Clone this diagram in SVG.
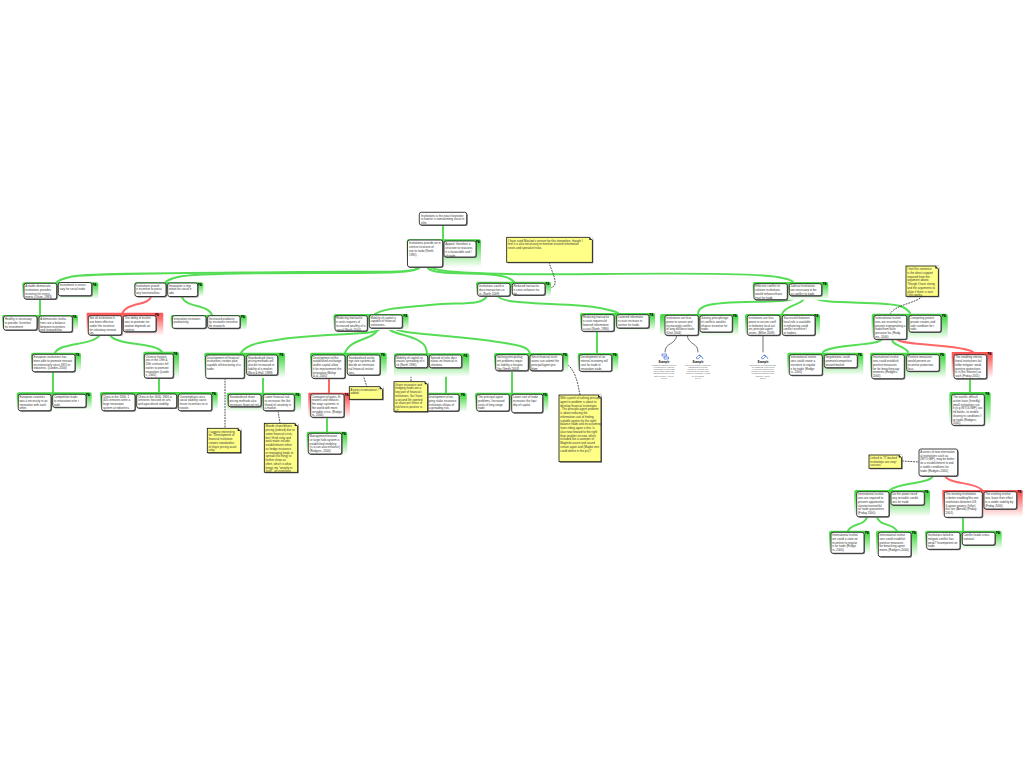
<svg xmlns="http://www.w3.org/2000/svg" width="1024" height="768" viewBox="0 0 1024 768">
<style>
.t{font-family:"Liberation Sans",Arial,sans-serif;font-size:2.95px;fill:#333}
.y{fill:#ffff88;stroke:#111;stroke-width:.8}
.b{fill:#fff;stroke:#111;stroke-width:.8;rx:2px}
.s{fill:#777;rx:2px}
.g{fill:url(#gG)}
.r{fill:url(#gR)}
.tag{font-family:"Liberation Sans",Arial,sans-serif;font-size:3px;font-weight:bold;fill:#000}
.cg,.cr,.ck,.cd{fill:none;stroke-linecap:round}
.cg{stroke:#55dd55;stroke-width:2}
.cr{stroke:#ff6666;stroke-width:2}
.ck{stroke:#333;stroke-width:.7}
.cd{stroke:#222;stroke-width:.8;stroke-dasharray:1.8 1;stroke-linecap:butt}
.ic{fill:none;stroke:#2255cc;stroke-width:.6}
.ex{font-family:"Liberation Sans",Arial,sans-serif;font-size:2.6px;font-weight:bold;fill:#000;text-anchor:middle}
.et{font-family:"Liberation Sans",Arial,sans-serif;font-size:2.3px;fill:#666;text-anchor:middle}
</style>
<defs>
<linearGradient id="gG" x1="0" y1="0" x2="0" y2="1"><stop offset="0" stop-color="#44d844"/><stop offset=".2" stop-color="#55dd55"/><stop offset="1" stop-color="#fff"/></linearGradient>
<linearGradient id="gR" x1="0" y1="0" x2="0" y2="1"><stop offset="0" stop-color="#ff5555"/><stop offset=".2" stop-color="#ff6666"/><stop offset="1" stop-color="#fff"/></linearGradient>
<g id="fold"><path fill="#fff" d="M-3-.6H.6V3z"/><path fill="#222" d="M-3-.4L0 2.6H-3z"/></g>
</defs>
<g id="connectors">
<path class="cg" d="M443 225V240"/>
<path class="cg" d="M418 267C416 274 380 271 300 272C200 273 80 273 70 277C62 279 58 280 56 283"/>
<path class="cg" d="M420 267C418 273 390 273 320 273C260 273 190 274 178 277C170 279 167 280 165 283"/>
<path class="cg" d="M427 267C432 276 470 272 495 275C505 276 511 278 514 282"/>
<path class="cg" d="M430 267C436 272 470 275 600 274C700 273 770 274 782 278C788 279 791 280 793 282"/>
<path class="cg" d="M40 299V316"/>
<path class="cr" d="M151 297C148 306 126 302 122 314"/>
<path class="cg" d="M182 297C186 308 208 304 212 315"/>
<path class="cg" d="M100 335C92 346 60 342 55 353"/>
<path class="cg" d="M110 335C116 346 156 342 162 352"/>
<path class="cg" d="M53 372V393"/>
<path class="cg" d="M159 378V393"/>
<path class="cg" d="M487 296C482 306 460 302 430 305C400 308 385 308 375 314"/>
<path class="cg" d="M498 296C502 306 570 302 600 308C610 310 615 311 618 313"/>
<path class="cg" d="M381 328C376 336 340 332 290 338C260 342 246 344 241 353"/>
<path class="cg" d="M378 328C376 340 350 338 345 353"/>
<path class="cg" d="M389 328C390 335 416 334 425 346C426 349 427 350 427 354"/>
<path class="cg" d="M394 328C402 336 470 334 520 346C527 348 529 350 530 354"/>
<path class="cg" d="M597 331V354"/>
<path class="cg" d="M263 375V393"/>
<path class="cr" d="M329 378V393"/>
<path class="cg" d="M327 418V432"/>
<path class="cg" d="M446 368V393"/>
<path class="cg" d="M512 371V393"/>
<path class="cg" d="M797 296C794 306 730 298 705 306C700 308 698 310 698 314"/>
<path class="cg" d="M805 296C803 306 786 304 782 314"/>
<path class="cg" d="M812 296C816 306 880 300 900 306C906 308 908 310 910 313"/>
<path class="cg" d="M882 339C880 346 832 344 823 352"/>
<path class="cg" d="M892 339C892 346 904 345 908 352"/>
<path class="cr" d="M897 339C900 346 960 344 973 352"/>
<path class="cg" d="M970 379V392"/>
<path class="cg" d="M933 476C930 484 900 482 890 490"/>
<path class="cr" d="M945 476C948 484 975 482 982 490"/>
<path class="cg" d="M867 517C865 526 851 523 848 531"/>
<path class="cg" d="M877 517C879 526 893 523 897 531"/>
<path class="cg" d="M963 517V531"/>
<path class="ck" d="M677 335C675 346 665 342 665 352"/>
<path class="ck" d="M687 335C689 346 698 342 698 352"/>
<path class="ck" d="M763 335V352"/>
<path class="cd" d="M225 378V428"/>
<path class="cd" d="M278 411L280 423"/>
<path class="cd" d="M363 375L367 387"/>
<path class="cd" d="M411 368V382"/>
<path class="cd" d="M563 363C570 364 575 372 578 385L580 395"/>
<path class="cd" d="M549 262C551 270 556 278 555 284C554 287 552 288 546 288"/>
<path class="cd" d="M922 296C918 303 896 304 890 314"/>
<path class="cd" d="M902 461L919 462"/>
</g>

<g id="n-root"><rect class="s" x="420.3" y="213.3" width="47.4" height="12.7" rx="1.5"/><rect class="b" x="419.3" y="212.3" width="47.4" height="12.7" rx="1.5"/><text class="t" y="216.5"><tspan x="421">Institutions is the exact keystone</tspan><tspan x="421" dy="3.75">in how/or is transforming social in</tspan><tspan x="421" dy="3.75">elite.</tspan></text></g>

<g id="g1"><rect class="g" x="406.7" y="239.3" width="74.3" height="28" rx="2"/><text class="tag" x="476" y="242.5">PA</text>
<g id="n1a"><rect class="s" x="408.5" y="241" width="35.2" height="27" rx="1.5"/><rect class="b" x="407.5" y="240" width="35.2" height="27" rx="1.5"/><text class="t" y="244.3"><tspan x="409">Institutions provide an in</tspan><tspan x="409" dy="3.75">centive structure of</tspan><tspan x="409" dy="3.75">use to trade (North,</tspan><tspan x="409" dy="3.75">1991).</tspan></text></g>
<g id="n1b"><rect class="s" x="445" y="242" width="32" height="16" rx="1.5"/><rect class="b" x="444" y="241" width="32" height="16" rx="1.5"/><text class="t" y="245.3"><tspan x="445.3">Appeal: therefore a</tspan><tspan x="445.3" dy="3.75">structure to reassess</tspan><tspan x="445.3" dy="3.75">it is favourable and /</tspan><tspan x="445.3" dy="3.75">of trade.</tspan></text></g></g>

<g id="note-top"><rect class="s" x="507.7" y="238.3" width="85.6" height="25" style="rx:0"/><rect class="y" x="506.7" y="237.3" width="85.6" height="25"/><use href="#fold" x="592.3" y="237.3"/><text class="t" y="241.7"><tspan x="508">I have used Maslow's version for this streamline, though I</tspan><tspan x="508" dy="3.75">feel it is also necessary to mention insured information</tspan><tspan x="508" dy="3.75">exists and spread of risks.</tspan></text></g>

<g id="g2"><rect class="g" x="22.3" y="282.3" width="76" height="17" rx="2"/><text class="tag" x="92.5" y="285.5">PA</text>
<g id="n2a"><rect class="s" x="25" y="284.3" width="32.7" height="15.7" rx="1.5"/><rect class="b" x="24" y="283.3" width="32.7" height="15.7" rx="1.5"/><text class="t" y="287"><tspan x="25.2">A stable democratic</tspan><tspan x="25.2" dy="3.75">institutions provides</tspan><tspan x="25.2" dy="3.75">incentive for invest-</tspan><tspan x="25.2" dy="3.75">ments (Olson, 1993).</tspan></text></g>
<g id="n2b"><rect class="s" x="59.3" y="283.5" width="33.4" height="13.2" rx="1.5"/><rect class="b" x="58.3" y="282.5" width="33.4" height="13.2" rx="1.5"/><text class="t" y="286.3"><tspan x="59.5">Investment is neces-</tspan><tspan x="59.5" dy="3.75">sary for social trade</tspan></text></g></g>

<g id="g3"><rect class="g" x="2" y="315" width="76" height="15" rx="2"/><text class="tag" x="72.5" y="318.2">PA</text>
<g id="n3a"><rect class="s" x="4.5" y="317" width="33.5" height="14" rx="1.5"/><rect class="b" x="3.5" y="316" width="33.5" height="14" rx="1.5"/><text class="t" y="320"><tspan x="4.7">Healthy is necessary</tspan><tspan x="4.7" dy="3.75">to provide. Incentive</tspan><tspan x="4.7" dy="3.75">for investment</tspan></text></g>
<g id="n3b"><rect class="s" x="40" y="317" width="33.3" height="16" rx="1.5"/><rect class="b" x="39" y="316" width="33.3" height="16" rx="1.5"/><text class="t" y="320"><tspan x="40.2">A democratic institu-</tspan><tspan x="40.2" dy="3.75">tions are a balance</tspan><tspan x="40.2" dy="3.75">between incentives</tspan><tspan x="40.2" dy="3.75">and stewardship.</tspan></text></g></g>

<g id="g4"><rect class="g" x="134.3" y="282.3" width="69" height="14.4" rx="2"/><text class="tag" x="198" y="285.5">PA</text>
<g id="n4a"><rect class="s" x="136" y="284" width="31" height="13.5" rx="1.5"/><rect class="b" x="135" y="283" width="31" height="13.5" rx="1.5"/><text class="t" y="286.7"><tspan x="136.2">Institutions provid</tspan><tspan x="136.2" dy="3.75">e incentive to pursu</tspan><tspan x="136.2" dy="3.75">any functionalities.</tspan></text></g>
<g id="n4b"><rect class="s" x="168.7" y="284" width="30" height="13.5" rx="1.5"/><rect class="b" x="167.7" y="283" width="30" height="13.5" rx="1.5"/><text class="t" y="286.7"><tspan x="168.9">Innovation is imp</tspan><tspan x="168.9" dy="3.75">ortant for social tr</tspan><tspan x="168.9" dy="3.75">ade</tspan></text></g></g>

<g id="g5"><rect class="r" x="86.7" y="312.7" width="76.6" height="23" rx="1"/><text class="tag" x="155" y="316">PA</text>
<g id="n5a"><rect class="s" x="89.3" y="316.7" width="33.4" height="19.3" rx="1.5"/><rect class="b" x="88.3" y="315.7" width="33.4" height="19.3" rx="1.5"/><text class="t" y="319.3"><tspan x="89.5">Not all institutions h</tspan><tspan x="89.5" dy="3.75">ave been effective</tspan><tspan x="89.5" dy="3.75">under the incentive</tspan><tspan x="89.5" dy="3.75">for voluntary innovat</tspan><tspan x="89.5" dy="3.75">ion.</tspan></text></g>
<g id="n5b"><rect class="s" x="124.3" y="316.7" width="32.7" height="16" rx="1.5"/><rect class="b" x="123.3" y="315.7" width="32.7" height="16" rx="1.5"/><text class="t" y="319.3"><tspan x="124.5">The ability of institut</tspan><tspan x="124.5" dy="3.75">ions to promote inn</tspan><tspan x="124.5" dy="3.75">ovation depends on</tspan><tspan x="124.5" dy="3.75">context.</tspan></text></g></g>

<g id="g6"><rect class="g" x="170.7" y="315" width="76" height="15" rx="2"/><text class="tag" x="241" y="318.2">PA</text>
<g id="n6a"><rect class="s" x="173.3" y="316.7" width="33.7" height="12.6" rx="1.5"/><rect class="b" x="172.3" y="315.7" width="33.7" height="12.6" rx="1.5"/><text class="t" y="319.7"><tspan x="173.5">Innovation increases</tspan><tspan x="173.5" dy="3.75">productivity.</tspan></text></g>
<g id="n6b"><rect class="s" x="208.7" y="316.7" width="32.3" height="12.6" rx="1.5"/><rect class="b" x="207.7" y="315.7" width="32.3" height="12.6" rx="1.5"/><text class="t" y="319.7"><tspan x="208.9">Increased productiv</tspan><tspan x="208.9" dy="3.75">ity increases incentive</tspan><tspan x="208.9" dy="3.75">for research.</tspan></text></g></g>

<g id="g7"><rect class="g" x="31" y="352.7" width="50" height="19" rx="2"/><text class="tag" x="75.5" y="356">PA</text>
<g id="n7"><rect class="s" x="33.3" y="355.3" width="42.7" height="17.4" rx="1.5"/><rect class="b" x="32.3" y="354.3" width="42.7" height="17.4" rx="1.5"/><text class="t" y="358"><tspan x="33.5">European institutions has</tspan><tspan x="33.5" dy="3.75">been able to promote innovati</tspan><tspan x="33.5" dy="3.75">on extensively since 1870 in</tspan><tspan x="33.5" dy="3.75">industries. (Landes,2000)</tspan></text></g></g>

<g id="g8"><rect class="g" x="143.3" y="351.7" width="35.7" height="26.6" rx="2"/><text class="tag" x="173.5" y="355">PA</text>
<g id="n8"><rect class="s" x="145.3" y="355" width="29" height="24" rx="1.5"/><rect class="b" x="144.3" y="354" width="29" height="24" rx="1.5"/><text class="t" y="357.7"><tspan x="145.5">Chinese Instituti</tspan><tspan x="145.5" dy="3.75">ons in the 19th &amp;</tspan><tspan x="145.5" dy="3.75">20th centuries fell</tspan><tspan x="145.5" dy="3.75">earlier to promote</tspan><tspan x="145.5" dy="3.75">innovation (Lande</tspan><tspan x="145.5" dy="3.75">s, 2000)</tspan></text></g></g>

<g id="g9"><rect class="g" x="16.7" y="392.3" width="75" height="17.7" rx="2"/><text class="tag" x="86" y="395.5">PA</text>
<g id="n9a"><rect class="s" x="19.3" y="395.3" width="32.7" height="16.4" rx="1.5"/><rect class="b" x="18.3" y="394.3" width="32.7" height="16.4" rx="1.5"/><text class="t" y="398"><tspan x="19.5">European countries</tspan><tspan x="19.5" dy="3.75">was a necessity in an</tspan><tspan x="19.5" dy="3.75">innovation with each</tspan><tspan x="19.5" dy="3.75">other.</tspan></text></g>
<g id="n9b"><rect class="s" x="53.7" y="395.3" width="33.3" height="13" rx="1.5"/><rect class="b" x="52.7" y="394.3" width="33.3" height="13" rx="1.5"/><text class="t" y="398"><tspan x="53.9">Competition leads</tspan><tspan x="53.9" dy="3.75">to innovation in/or t</tspan><tspan x="53.9" dy="3.75">rade.</tspan></text></g></g>

<g id="g10"><rect class="g" x="100" y="392" width="117.7" height="18" rx="2"/><text class="tag" x="212" y="395.3">PA</text>
<g id="n10a"><rect class="s" x="102.7" y="395" width="33.3" height="16.7" rx="1.5"/><rect class="b" x="101.7" y="394" width="33.3" height="16.7" rx="1.5"/><text class="t" y="397.7"><tspan x="102.9">China in the 1300, 1</tspan><tspan x="102.9" dy="3.75">400 centuries were a</tspan><tspan x="102.9" dy="3.75">large innovation</tspan><tspan x="102.9" dy="3.75">system at industries.</tspan></text></g>
<g id="n10b"><rect class="s" x="137.7" y="395" width="40" height="14" rx="1.5"/><rect class="b" x="136.7" y="394" width="40" height="14" rx="1.5"/><text class="t" y="397.7"><tspan x="137.9">China in the 1600, 1800 a</tspan><tspan x="137.9" dy="3.75">centuries focused on arts</tspan><tspan x="137.9" dy="3.75">and agricultural stability.</tspan></text></g>
<g id="n10c"><rect class="s" x="179.3" y="395" width="33.4" height="16.7" rx="1.5"/><rect class="b" x="178.3" y="394" width="33.4" height="16.7" rx="1.5"/><text class="t" y="397.7"><tspan x="179.5">Overemphasis on a</tspan><tspan x="179.5" dy="3.75">social stability cause</tspan><tspan x="179.5" dy="3.75">lesser incentives to in</tspan><tspan x="179.5" dy="3.75">novate.</tspan></text></g></g>

<g id="g18"><rect class="g" x="333.5" y="314" width="75" height="16" rx="2"/><text class="tag" x="403.5" y="317">PA</text>
<g id="n18a"><rect class="s" x="336" y="316.7" width="32.3" height="15.3" rx="1.5"/><rect class="b" x="335" y="315.7" width="32.3" height="15.3" rx="1.5"/><text class="t" y="319.3"><tspan x="336.2">Reducing transactio</tspan><tspan x="336.2" dy="3.75">n costs requires of</tspan><tspan x="336.2" dy="3.75">increased wealthy of a</tspan><tspan x="336.2" dy="3.75">social (North 2000)</tspan></text></g>
<g id="n18b"><rect class="s" x="370.3" y="316" width="33" height="13" rx="1.5"/><rect class="b" x="369.3" y="315" width="33" height="13" rx="1.5"/><text class="t" y="318.7"><tspan x="370.5">Mobility of capital is</tspan><tspan x="370.5" dy="3.75">capable of financial</tspan><tspan x="370.5" dy="3.75">institutions.</tspan></text></g></g>

<g id="g11"><rect class="g" x="204.3" y="352.7" width="80.7" height="25.3" rx="2"/><text class="tag" x="279.5" y="356">PA</text>
<g id="n11a"><rect class="s" x="206.7" y="356" width="38.6" height="23.3" rx="1.5"/><rect class="b" x="205.7" y="355" width="38.6" height="23.3" rx="1.5"/><text class="t" y="358.7"><tspan x="206.9">Development of financial</tspan><tspan x="206.9" dy="3.75">institutions creates plan</tspan><tspan x="206.9" dy="3.75">capable of/structuring of a</tspan><tspan x="206.9" dy="3.75">trade.</tspan></text></g>
<g id="n11b"><rect class="s" x="247.7" y="356" width="31" height="20" rx="1.5"/><rect class="b" x="246.7" y="355" width="31" height="20" rx="1.5"/><text class="t" y="358.7"><tspan x="247.9">Standardised share</tspan><tspan x="247.9" dy="3.75">pricing methods will</tspan><tspan x="247.9" dy="3.75">also be increased re</tspan><tspan x="247.9" dy="3.75">liability of a market</tspan><tspan x="247.9" dy="3.75">(Best &amp; Hall, 1999)</tspan></text></g></g>

<g id="g12"><rect class="g" x="310" y="352.7" width="76.7" height="24" rx="2"/><text class="tag" x="381" y="356">PA</text>
<g id="n12a"><rect class="s" x="312.7" y="356" width="33.3" height="23.3" rx="1.5"/><rect class="b" x="311.7" y="355" width="33.3" height="23.3" rx="1.5"/><text class="t" y="358.7"><tspan x="312.9">Development of the</tspan><tspan x="312.9" dy="3.75">established exchange</tspan><tspan x="312.9" dy="3.75">and/or capital allow</tspan><tspan x="312.9" dy="3.75">it for improvement the</tspan><tspan x="312.9" dy="3.75">innovation (Mokyr</tspan><tspan x="312.9" dy="3.75">&amp; al, 2000)</tspan></text></g>
<g id="n12b"><rect class="s" x="348.3" y="356" width="32.7" height="20" rx="1.5"/><rect class="b" x="347.3" y="355" width="32.7" height="20" rx="1.5"/><text class="t" y="358.7"><tspan x="348.5">Standardised excha</tspan><tspan x="348.5" dy="3.75">nge rate systems do</tspan><tspan x="348.5" dy="3.75">decide on internatio</tspan><tspan x="348.5" dy="3.75">nal financial institut</tspan><tspan x="348.5" dy="3.75">ions.</tspan></text></g></g>

<g id="g23"><rect class="g" x="394" y="353.3" width="75.3" height="23.4" rx="2"/><text class="tag" x="463.5" y="356.5">PA</text>
<g id="n23a"><rect class="s" x="396" y="356" width="32.7" height="12.7" rx="1.5"/><rect class="b" x="395" y="355" width="32.7" height="12.7" rx="1.5"/><text class="t" y="358.7"><tspan x="396.2">Mobility of capital inc</tspan><tspan x="396.2" dy="3.75">reases spreading of ri</tspan><tspan x="396.2" dy="3.75">sk (North 1990)</tspan></text></g>
<g id="n23b"><rect class="s" x="430.3" y="356" width="32.4" height="12.7" rx="1.5"/><rect class="b" x="429.3" y="355" width="32.4" height="12.7" rx="1.5"/><text class="t" y="358.7"><tspan x="430.5">Spread of risks decr</tspan><tspan x="430.5" dy="3.75">eases on financial in</tspan><tspan x="430.5" dy="3.75">stitutions.</tspan></text></g></g>

<g id="g22"><rect class="g" x="494" y="353" width="74.3" height="19" rx="2"/><text class="tag" x="563" y="356.3">PA</text>
<g id="n22a"><rect class="s" x="496.7" y="355.7" width="32.6" height="16" rx="1.5"/><rect class="b" x="495.7" y="354.7" width="32.6" height="16" rx="1.5"/><text class="t" y="358.4"><tspan x="496.9">Solving principal/ag</tspan><tspan x="496.9" dy="3.75">ent problems requir</tspan><tspan x="496.9" dy="3.75">es liability a hospita</tspan><tspan x="496.9" dy="3.75">l by (Smith 2003)</tspan></text></g>
<g id="n22b"><rect class="s" x="531" y="355.7" width="32.7" height="16" rx="1.5"/><rect class="b" x="530" y="354.7" width="32.7" height="16" rx="1.5"/><text class="t" y="358.4"><tspan x="531.2">Since financial instit</tspan><tspan x="531.2" dy="3.75">utions can submit the</tspan><tspan x="531.2" dy="3.75">principal/agent pro</tspan><tspan x="531.2" dy="3.75">blem</tspan></text></g></g>

<g id="g15"><rect class="r" x="308.3" y="392.7" width="41.7" height="25.6" rx="1"/><text class="tag" x="344.5" y="396">PA</text>
<g id="n15"><rect class="s" x="311.7" y="395" width="33.3" height="23.3" rx="1.5"/><rect class="b" x="310.7" y="394" width="33.3" height="23.3" rx="1.5"/><text class="t" y="397.7"><tspan x="311.9">Contagion of gains, th</tspan><tspan x="311.9" dy="3.75">reatens and reduces</tspan><tspan x="311.9" dy="3.75">the ways systemic in</tspan><tspan x="311.9" dy="3.75">the world with more</tspan><tspan x="311.9" dy="3.75">unstable crisis. (Rodge</tspan><tspan x="311.9" dy="3.75">rs, 2000)</tspan></text></g></g>

<g id="g16"><rect class="g" x="306.7" y="431.7" width="40.6" height="23.3" rx="2"/><text class="tag" x="342" y="435">PA</text>
<g id="n16"><rect class="s" x="309.3" y="434.3" width="33.4" height="20.7" rx="1.5"/><rect class="b" x="308.3" y="433.3" width="33.4" height="20.7" rx="1.5"/><text class="t" y="437"><tspan x="309.5">Management/insuran</tspan><tspan x="309.5" dy="3.75">ce large hole-system is</tspan><tspan x="309.5" dy="3.75">established enabling</tspan><tspan x="309.5" dy="3.75">(is a can also enhance)</tspan><tspan x="309.5" dy="3.75">(Rodgers, 2000)</tspan></text></g></g>

<g id="note-new"><rect class="s" x="350.3" y="387.7" width="33.4" height="12.6" style="rx:0"/><rect class="y" x="349.3" y="386.7" width="33.4" height="12.6"/><use href="#fold" x="382.7" y="386.7"/><text class="t" y="390.7"><tspan x="350.5">A new circumstance I</tspan><tspan x="350.5" dy="3.75">added</tspan></text></g>

<g id="g17"><rect class="g" x="226.7" y="392.7" width="74.3" height="19" rx="2"/><text class="tag" x="295.5" y="396">PA</text>
<g id="n17a"><rect class="s" x="229.3" y="395.3" width="32.7" height="12.4" rx="1.5"/><rect class="b" x="228.3" y="394.3" width="32.7" height="12.4" rx="1.5"/><text class="t" y="398"><tspan x="229.5">Standardised share</tspan><tspan x="229.5" dy="3.75">pricing methods also</tspan><tspan x="229.5" dy="3.75">increases financial risk.</tspan></text></g>
<g id="n17b"><rect class="s" x="264.3" y="395.3" width="31" height="16.4" rx="1.5"/><rect class="b" x="263.3" y="394.3" width="31" height="16.4" rx="1.5"/><text class="t" y="398"><tspan x="264.5">Lower financial risk</tspan><tspan x="264.5" dy="3.75">to increases the like</tspan><tspan x="264.5" dy="3.75">lihood of creativity in</tspan><tspan x="264.5" dy="3.75">a market.</tspan></text></g></g>

<g id="g24"><rect class="g" x="425" y="392.7" width="41.7" height="19" rx="2"/><text class="tag" x="461" y="396">PA</text>
<g id="n24"><rect class="s" x="427.7" y="395.3" width="32.3" height="16.7" rx="1.5"/><rect class="b" x="426.7" y="394.3" width="32.3" height="16.7" rx="1.5"/><text class="t" y="398"><tspan x="427.9">Development of on-</tspan><tspan x="427.9" dy="3.75">going stake insurance</tspan><tspan x="427.9" dy="3.75">institutions allows of</tspan><tspan x="427.9" dy="3.75">a spreading risk.</tspan></text></g></g>

<g id="note-ins"><rect class="s" x="395" y="382.7" width="33.7" height="30" style="rx:0"/><rect class="y" x="394" y="381.7" width="33.7" height="30"/><use href="#fold" x="427.7" y="381.7"/><text class="t" y="385.5"><tspan x="395.2">Given insurance and</tspan><tspan x="395.2" dy="3.75">hedging funds are a</tspan><tspan x="395.2" dy="3.75">key part of financial i</tspan><tspan x="395.2" dy="3.75">nstitutions. So I have</tspan><tspan x="395.2" dy="3.75">a second life opened</tspan><tspan x="395.2" dy="3.75">at share per these of</tspan><tspan x="395.2" dy="3.75">risk/stress positive is</tspan><tspan x="395.2" dy="3.75">it?</tspan></text></g>

<g id="g25"><rect class="g" x="475" y="392.7" width="73.3" height="19.3" rx="2"/><text class="tag" x="543" y="396">PA</text>
<g id="n25a"><rect class="s" x="477.7" y="395.3" width="32.6" height="16.7" rx="1.5"/><rect class="b" x="476.7" y="394.3" width="32.6" height="16.7" rx="1.5"/><text class="t" y="398"><tspan x="477.9">The principal agent</tspan><tspan x="477.9" dy="3.75">problems. Increased</tspan><tspan x="477.9" dy="3.75">costs of long range</tspan><tspan x="477.9" dy="3.75">trade</tspan></text></g>
<g id="n25b"><rect class="s" x="512.7" y="395.3" width="31" height="18.4" rx="1.5"/><rect class="b" x="511.7" y="394.3" width="31" height="18.4" rx="1.5"/><text class="t" y="398"><tspan x="512.9">Lower cost of trade</tspan><tspan x="512.9" dy="3.75">increases the liqui</tspan><tspan x="512.9" dy="3.75">dity of capital</tspan></text></g></g>

<g id="note-sug"><rect class="s" x="208.3" y="429.3" width="33.4" height="24.4" style="rx:0"/><rect class="y" x="207.3" y="428.3" width="33.4" height="24.4"/><use href="#fold" x="240.7" y="428.3"/><text class="t" y="432.5"><tspan x="208.5">I suggest interesting</tspan><tspan x="208.5" dy="3.75">for "Development of</tspan><tspan x="208.5" dy="3.75">financial institution</tspan><tspan x="208.5" dy="3.75">creates standardise</tspan><tspan x="208.5" dy="3.75">of share pricing asset</tspan><tspan x="208.5" dy="3.75">risky."</tspan></text></g>

<g id="note-maede"><rect class="s" x="265.3" y="424.3" width="33.4" height="49" style="rx:0"/><rect class="y" x="264.3" y="423.3" width="33.4" height="49"/><use href="#fold" x="297.7" y="423.3"/><text class="t" y="427.3"><tspan x="265.5">Maede share/ditions</tspan><tspan x="265.5" dy="3.75">pricing (indeed) due to</tspan><tspan x="265.5" dy="3.75">some financial crisis,</tspan><tspan x="265.5" dy="3.75">but I think risky and</tspan><tspan x="265.5" dy="3.75">work make include</tspan><tspan x="265.5" dy="3.75">establishment either</tspan><tspan x="265.5" dy="3.75">as hedge insurance</tspan><tspan x="265.5" dy="3.75">or managing funds to</tspan><tspan x="265.5" dy="3.75">spread risk thing) to</tspan><tspan x="265.5" dy="3.75">further show so</tspan><tspan x="265.5" dy="3.75">often, which is what</tspan><tspan x="265.5" dy="3.75">keeps my "anxiety in</tspan><tspan x="265.5" dy="3.75">itself", on even/give</tspan></text></g>

<g id="g19"><rect class="g" x="476" y="281.7" width="75" height="15" rx="2"/><text class="tag" x="545.5" y="285">PA</text>
<g id="n19a"><rect class="s" x="478.7" y="284.3" width="32.3" height="12.7" rx="1.5"/><rect class="b" x="477.7" y="283.3" width="32.3" height="12.7" rx="1.5"/><text class="t" y="287"><tspan x="478.9">Institutions could re</tspan><tspan x="478.9" dy="3.75">duce transaction co</tspan><tspan x="478.9" dy="3.75">st. (North 2009)</tspan></text></g>
<g id="n19b"><rect class="s" x="513.3" y="284.3" width="32.7" height="11.7" rx="1.5"/><rect class="b" x="512.3" y="283.3" width="32.7" height="11.7" rx="1.5"/><text class="t" y="287"><tspan x="513.5">Reduced transactio</tspan><tspan x="513.5" dy="3.75">n costs enhance tra</tspan><tspan x="513.5" dy="3.75">de.</tspan></text></g></g>

<g id="g20"><rect class="g" x="580" y="313" width="75" height="18" rx="2"/><text class="tag" x="649.5" y="316.2">PA</text>
<g id="n20a"><rect class="s" x="582.7" y="315.7" width="32.3" height="16.6" rx="1.5"/><rect class="b" x="581.7" y="314.7" width="32.3" height="16.6" rx="1.5"/><text class="t" y="318.3"><tspan x="582.9">Reducing transactio</tspan><tspan x="582.9" dy="3.75">n costs requires/of</tspan><tspan x="582.9" dy="3.75">lowered information</tspan><tspan x="582.9" dy="3.75">a cost (North, 1990)</tspan></text></g>
<g id="n20b"><rect class="s" x="617.7" y="315.7" width="32.3" height="13.3" rx="1.5"/><rect class="b" x="616.7" y="314.7" width="32.3" height="13.3" rx="1.5"/><text class="t" y="318.3"><tspan x="617.9">Lowered informatio</tspan><tspan x="617.9" dy="3.75">n costs increase in</tspan><tspan x="617.9" dy="3.75">centive for trade.</tspan></text></g></g>

<g id="g21"><rect class="g" x="577.7" y="353" width="40.6" height="18.3" rx="2"/><text class="tag" x="612.8" y="356.3">PA</text>
<g id="n21"><rect class="s" x="580.3" y="355.7" width="32.4" height="16.6" rx="1.5"/><rect class="b" x="579.3" y="354.7" width="32.4" height="16.6" rx="1.5"/><text class="t" y="358.4"><tspan x="580.5">Development of an</tspan><tspan x="580.5" dy="3.75">internal economy will</tspan><tspan x="580.5" dy="3.75">cost for trade in</tspan><tspan x="580.5" dy="3.75">innovation trade.</tspan></text></g></g>

<g id="note-path"><rect class="s" x="560" y="396" width="42" height="66.7" style="rx:0"/><rect class="y" x="559" y="395" width="42" height="66.7"/><use href="#fold" x="601" y="395"/><text class="t" y="399"><tspan x="560.2">With a point of solving principal/</tspan><tspan x="560.2" dy="3.75">agent in problem is about to</tspan><tspan x="560.2" dy="3.75">develop financial institutions</tspan><tspan x="560.2" dy="3.75">. The principle-agent problem</tspan><tspan x="560.2" dy="3.75">is about reducing the</tspan><tspan x="560.2" dy="3.75">information cost of finding</tspan><tspan x="560.2" dy="3.75">suitable agents for the right/</tspan><tspan x="560.2" dy="3.75">balance trade and on assuming</tspan><tspan x="560.2" dy="3.75">/over-riding again a fine. Is</tspan><tspan x="560.2" dy="3.75">also now forward to the right</tspan><tspan x="560.2" dy="3.75">than another on now, which</tspan><tspan x="560.2" dy="3.75">included like a sweeper of</tspan><tspan x="560.2" dy="3.75">Maghribi assert and raised</tspan><tspan x="560.2" dy="3.75">certain again and (Maybe one</tspan><tspan x="560.2" dy="3.75">could delete in the pic)?</tspan></text></g>

<g id="g26"><rect class="g" x="752.7" y="282" width="75.6" height="17.7" rx="2"/><text class="tag" x="822.8" y="285.2">PA</text>
<g id="n26a"><rect class="s" x="755" y="284.7" width="33.3" height="16" rx="1.5"/><rect class="b" x="754" y="283.7" width="33.3" height="16" rx="1.5"/><text class="t" y="287.3"><tspan x="755.2">Effective conflict re</tspan><tspan x="755.2" dy="3.75">solution institutions</tspan><tspan x="755.2" dy="3.75">would enhance/have</tspan><tspan x="755.2" dy="3.75">trust for trade</tspan></text></g>
<g id="n26b"><rect class="s" x="790.3" y="284.7" width="32.4" height="12" rx="1.5"/><rect class="b" x="789.3" y="283.7" width="32.4" height="12" rx="1.5"/><text class="t" y="287.3"><tspan x="790.5">Judicial institutions</tspan><tspan x="790.5" dy="3.75">are necessary to be</tspan><tspan x="790.5" dy="3.75">as conflict to trade</tspan></text></g></g>

<g id="g27"><rect class="g" x="660" y="314" width="78.3" height="22" rx="2"/><text class="tag" x="733" y="317.2">PA</text>
<g id="n27a"><rect class="s" x="666" y="316.3" width="33.3" height="20" rx="1.5"/><rect class="b" x="665" y="315.3" width="33.3" height="20" rx="1.5"/><text class="t" y="319"><tspan x="666.2">Institutions are less</tspan><tspan x="666.2" dy="3.75">prone to secure and</tspan><tspan x="666.2" dy="3.75">increasingly conflict</tspan><tspan x="666.2" dy="3.75">of long distance trade</tspan><tspan x="666.2" dy="3.75">(Dixit 2004)</tspan></text></g>
<g id="n27b"><rect class="s" x="701" y="316.3" width="32.3" height="16.7" rx="1.5"/><rect class="b" x="700" y="315.3" width="32.3" height="16.7" rx="1.5"/><text class="t" y="319"><tspan x="701.2">Solving principle/age</tspan><tspan x="701.2" dy="3.75">nt conflicts would e</tspan><tspan x="701.2" dy="3.75">nhance incentive for</tspan><tspan x="701.2" dy="3.75">trade.</tspan></text></g></g>

<g id="g28"><rect class="g" x="745" y="314" width="75" height="22" rx="2"/><text class="tag" x="814.5" y="317.2">PA</text>
<g id="n28a"><rect class="s" x="748.3" y="316.3" width="32.7" height="20" rx="1.5"/><rect class="b" x="747.3" y="315.3" width="32.7" height="20" rx="1.5"/><text class="t" y="319"><tspan x="748.5">Institutions are less</tspan><tspan x="748.5" dy="3.75">prone to secure confl</tspan><tspan x="748.5" dy="3.75">ict between local act</tspan><tspan x="748.5" dy="3.75">ors principle-agent</tspan><tspan x="748.5" dy="3.75">actors. (Miller 2009)</tspan></text></g>
<g id="n28b"><rect class="s" x="783.3" y="316.3" width="32.7" height="20" rx="1.5"/><rect class="b" x="782.3" y="315.3" width="32.7" height="20" rx="1.5"/><text class="t" y="319"><tspan x="783.5">Successful between</tspan><tspan x="783.5" dy="3.75">local rule is available</tspan><tspan x="783.5" dy="3.75">in enhancing could</tspan><tspan x="783.5" dy="3.75">conflict incentive f</tspan><tspan x="783.5" dy="3.75">or traders.</tspan></text></g></g>

<g id="ex1"><path class="ic" d="M662 354h4.5v2h-4.5zM664 357h4.5v2h-4.5z"/><text class="ex" x="664" y="363">Example</text><text class="et" y="366"><tspan x="664">Maghribi traders formed</tspan><tspan x="664" dy="2.1">a coalition to enforce</tspan><tspan x="664" dy="2.1">contracts in long dist</tspan><tspan x="664" dy="2.1">ance trade within the</tspan><tspan x="664" dy="2.1">mediterranean in the</tspan><tspan x="664" dy="2.1">11th century. (Greif,</tspan><tspan x="664" dy="2.1">1993)</tspan></text></g>
<g id="ex2"><path class="ic" d="M696 358l3-3 2 1-3 3zM699 355l3 2 1 2"/><text class="ex" x="698" y="363">Example</text><text class="et" y="366"><tspan x="698">Law merchants in Europe</tspan><tspan x="698" dy="2.1">established private</tspan><tspan x="698" dy="2.1">courts to enforce the</tspan><tspan x="698" dy="2.1">contracts of travelling</tspan><tspan x="698" dy="2.1">traders. (Milgrom, North</tspan><tspan x="698" dy="2.1">&amp; Weingast,</tspan><tspan x="698" dy="2.1">1990)</tspan></text></g>
<g id="ex3"><path class="ic" d="M761 358l3-3 2 1-3 3zM764 355l3 2 1 2"/><text class="ex" x="763" y="363">Example</text><text class="et" y="366"><tspan x="763">European merchants had</tspan><tspan x="763" dy="2.1">to establish local rules</tspan><tspan x="763" dy="2.1">in foreign towns as a</tspan><tspan x="763" dy="2.1">means of enforcing the</tspan><tspan x="763" dy="2.1">contracts between the</tspan><tspan x="763" dy="2.1">traders. (Greif,</tspan><tspan x="763" dy="2.1">2006)</tspan></text></g>

<g id="g29"><rect class="g" x="871.7" y="313.7" width="76" height="25.6" rx="2"/><text class="tag" x="942" y="317">PA</text>
<g id="n29a"><rect class="s" x="875" y="316.3" width="32.7" height="24" rx="1.5"/><rect class="b" x="874" y="315.3" width="32.7" height="24" rx="1.5"/><text class="t" y="319"><tspan x="875.2">International institut</tspan><tspan x="875.2" dy="3.75">ions are essential to</tspan><tspan x="875.2" dy="3.75">prevent expropriating a</tspan><tspan x="875.2" dy="3.75">trade/from false</tspan><tspan x="875.2" dy="3.75">pressure Inc (Rodg</tspan><tspan x="875.2" dy="3.75">ers, 2000)</tspan></text></g>
<g id="n29b"><rect class="s" x="910" y="316.3" width="32" height="16.7" rx="1.5"/><rect class="b" x="909" y="315.3" width="32" height="16.7" rx="1.5"/><text class="t" y="319"><tspan x="910.2">Competing protect</tspan><tspan x="910.2" dy="3.75">private creates and</tspan><tspan x="910.2" dy="3.75">safe condition for t</tspan><tspan x="910.2" dy="3.75">rade.</tspan></text></g></g>

<g id="note-feel"><rect class="s" x="907" y="267" width="32.3" height="30.3" style="rx:0"/><rect class="y" x="906" y="266" width="32.3" height="30.3"/><use href="#fold" x="938.3" y="266"/><text class="t" y="270"><tspan x="907.2">I feel this sentence</tspan><tspan x="907.2" dy="3.75">is the direct support</tspan><tspan x="907.2" dy="3.75">required from the</tspan><tspan x="907.2" dy="3.75">argument above.</tspan><tspan x="907.2" dy="3.75">Though I have strong</tspan><tspan x="907.2" dy="3.75">and the arguments to</tspan><tspan x="907.2" dy="3.75">allow if there is over</tspan><tspan x="907.2" dy="3.75">/ this works.</tspan></text></g>

<g id="g30"><rect class="g" x="787.3" y="352.7" width="76" height="22.6" rx="2"/><text class="tag" x="858" y="356">PA</text>
<g id="n30a"><rect class="s" x="790.3" y="355.7" width="33" height="20.6" rx="1.5"/><rect class="b" x="789.3" y="354.7" width="33" height="20.6" rx="1.5"/><text class="t" y="358.4"><tspan x="790.5">International institut</tspan><tspan x="790.5" dy="3.75">ions could create a</tspan><tspan x="790.5" dy="3.75">incentive to regulat</tspan><tspan x="790.5" dy="3.75">e for trade (Rodge</tspan><tspan x="790.5" dy="3.75">rs, 2000)</tspan></text></g>
<g id="n30b"><rect class="s" x="825.3" y="355.7" width="33" height="13" rx="1.5"/><rect class="b" x="824.3" y="354.7" width="33" height="13" rx="1.5"/><text class="t" y="358.4"><tspan x="825.5">Negotiations could</tspan><tspan x="825.5" dy="3.75">promote/competitive</tspan><tspan x="825.5" dy="3.75">private/market.</tspan></text></g></g>

<g id="g31"><rect class="g" x="870" y="352.7" width="75.7" height="26" rx="2"/><text class="tag" x="940" y="356">PA</text>
<g id="n31a"><rect class="s" x="872.7" y="355.7" width="32.6" height="24" rx="1.5"/><rect class="b" x="871.7" y="354.7" width="32.6" height="24" rx="1.5"/><text class="t" y="358.4"><tspan x="872.9">International institut</tspan><tspan x="872.9" dy="3.75">ions could establish</tspan><tspan x="872.9" dy="3.75">punitive measures</tspan><tspan x="872.9" dy="3.75">for for breaching agr</tspan><tspan x="872.9" dy="3.75">eements (Rodgers,</tspan><tspan x="872.9" dy="3.75">2000)</tspan></text></g>
<g id="n31b"><rect class="s" x="907.7" y="355.7" width="32.6" height="16.6" rx="1.5"/><rect class="b" x="906.7" y="354.7" width="32.6" height="16.6" rx="1.5"/><text class="t" y="358.4"><tspan x="907.9">Punitive measures</tspan><tspan x="907.9" dy="3.75">would prevent an</tspan><tspan x="907.9" dy="3.75">incentive protection</tspan><tspan x="907.9" dy="3.75">loss.</tspan></text></g></g>

<g id="g32"><rect class="r" x="951.7" y="352" width="41" height="26.7" rx="1"/><text class="tag" x="987.5" y="355.2">PA</text>
<g id="n32"><rect class="s" x="955" y="355.7" width="32.7" height="24" rx="1.5"/><rect class="b" x="954" y="354.7" width="32.7" height="24" rx="1.5"/><text class="t" y="358.4"><tspan x="955.2">The enabling interna</tspan><tspan x="955.2" dy="3.75">tional institutions fail</tspan><tspan x="955.2" dy="3.75">to/be mitigate: weak</tspan><tspan x="955.2" dy="3.75">punitive protections</tspan><tspan x="955.2" dy="3.75">in it (the Skinner) as</tspan><tspan x="955.2" dy="3.75">such (Friday 2001)</tspan></text></g></g>

<g id="g33"><rect class="g" x="949.3" y="392" width="41.4" height="33.3" rx="2"/><text class="tag" x="985.5" y="395.2">PA</text>
<g id="n33"><rect class="s" x="952.7" y="395.3" width="32.6" height="31" rx="1.5"/><rect class="b" x="951.7" y="394.3" width="32.6" height="31" rx="1.5"/><text class="t" y="398"><tspan x="952.9">The world's difficult</tspan><tspan x="952.9" dy="3.75">action have (friendly)</tspan><tspan x="952.9" dy="3.75">small institutions suc</tspan><tspan x="952.9" dy="3.75">h (e.g INTOL/IMF), wo</tspan><tspan x="952.9" dy="3.75">rld banks, to enable</tspan><tspan x="952.9" dy="3.75">sharing in conditions f</tspan><tspan x="952.9" dy="3.75">or trade (Rodgers,</tspan><tspan x="952.9" dy="3.75">2000)</tspan></text></g></g>

<g id="n-series"><rect class="s" x="920" y="450" width="38.7" height="27" rx="1.5"/><rect class="b" x="919" y="449" width="38.7" height="27" rx="1.5"/><text class="t" y="452.8"><tspan x="920.2">A series of new internation</tspan><tspan x="920.2" dy="3.75">al institutions such as</tspan><tspan x="920.2" dy="3.75">(WTO,IMF), may be better</tspan><tspan x="920.2" dy="3.75">on a establishment to wid</tspan><tspan x="920.2" dy="3.75">e stable conditions for</tspan><tspan x="920.2" dy="3.75">trade (Rodgers,2000)</tspan></text></g>

<g id="note-link"><rect class="s" x="870" y="456" width="32.7" height="13.3" style="rx:0"/><rect class="y" x="869" y="455" width="32.7" height="13.3"/><use href="#fold" x="901.7" y="455"/><text class="t" y="458.8"><tspan x="870.2">Linked to "IT-backed</tspan><tspan x="870.2" dy="3.75">institutions are very/</tspan><tspan x="870.2" dy="3.75">success"</tspan></text></g>

<g id="g34"><rect class="g" x="854.3" y="490" width="75.7" height="26.7" rx="2"/><text class="tag" x="924.5" y="493.2">PA</text>
<g id="n34a"><rect class="s" x="857.7" y="492.7" width="32.3" height="25" rx="1.5"/><rect class="b" x="856.7" y="491.7" width="32.3" height="25" rx="1.5"/><text class="t" y="495.4"><tspan x="857.9">International institut</tspan><tspan x="857.9" dy="3.75">ions are required to</tspan><tspan x="857.9" dy="3.75">prevent opportunitie</tspan><tspan x="857.9" dy="3.75">s/protectionism/fal</tspan><tspan x="857.9" dy="3.75">se trade guarantees</tspan><tspan x="857.9" dy="3.75">(Friday 2000)</tspan></text></g>
<g id="n34b"><rect class="s" x="892" y="492.7" width="33.3" height="13.3" rx="1.5"/><rect class="b" x="891" y="491.7" width="33.3" height="13.3" rx="1.5"/><text class="t" y="495.4"><tspan x="892.2">Do the power need</tspan><tspan x="892.2" dy="3.75">any unstable conditi</tspan><tspan x="892.2" dy="3.75">ons for trade</tspan></text></g></g>

<g id="g35"><rect class="r" x="942.3" y="490" width="80.4" height="27.3" rx="1"/><text class="tag" x="1017.5" y="493.2">PA</text>
<g id="n35a"><rect class="s" x="945.3" y="492.7" width="38" height="25.6" rx="1.5"/><rect class="b" x="944.3" y="491.7" width="38" height="25.6" rx="1.5"/><text class="t" y="495.4"><tspan x="945.5">The existing institutions</tspan><tspan x="945.5" dy="3.75">is better enabling/the one</tspan><tspan x="945.5" dy="3.75">institutions between US</tspan><tspan x="945.5" dy="3.75">/Lagoon powers (Iriller)</tspan><tspan x="945.5" dy="3.75">this are (Arnold) (Friday</tspan><tspan x="945.5" dy="3.75">2001)</tspan></text></g>
<g id="n35b"><rect class="s" x="985" y="492.7" width="32.7" height="17.3" rx="1.5"/><rect class="b" x="984" y="491.7" width="32.7" height="17.3" rx="1.5"/><text class="t" y="495.4"><tspan x="985.2">The existing institut</tspan><tspan x="985.2" dy="3.75">ions leave their effect</tspan><tspan x="985.2" dy="3.75">in a stable stability by</tspan><tspan x="985.2" dy="3.75">(Friday 2000)</tspan></text></g></g>

<g id="g36"><rect class="g" x="829" y="530.7" width="41" height="22.6" rx="2"/><text class="tag" x="865" y="534">PA</text>
<g id="n36"><rect class="s" x="832" y="533.3" width="33" height="21" rx="1.5"/><rect class="b" x="831" y="532.3" width="33" height="21" rx="1.5"/><text class="t" y="536"><tspan x="832.2">International institut</tspan><tspan x="832.2" dy="3.75">ion could a state an</tspan><tspan x="832.2" dy="3.75">incentive to regulat</tspan><tspan x="832.2" dy="3.75">e for trade (Rodge</tspan><tspan x="832.2" dy="3.75">rs, 2000)</tspan></text></g></g>

<g id="g37"><rect class="g" x="876" y="530.7" width="41.3" height="26" rx="2"/><text class="tag" x="912" y="534">PA</text>
<g id="n37"><rect class="s" x="879.3" y="533.3" width="32.7" height="24.4" rx="1.5"/><rect class="b" x="878.3" y="532.3" width="32.7" height="24.4" rx="1.5"/><text class="t" y="536"><tspan x="879.5">International institut</tspan><tspan x="879.5" dy="3.75">ions could establish</tspan><tspan x="879.5" dy="3.75">punitive measures</tspan><tspan x="879.5" dy="3.75">for breaching agree</tspan><tspan x="879.5" dy="3.75">ments (Rodgers,2000)</tspan></text></g></g>

<g id="g38"><rect class="g" x="925" y="530.7" width="76.7" height="18.6" rx="2"/><text class="tag" x="996" y="534">PA</text>
<g id="n38a"><rect class="s" x="927.7" y="533.3" width="33.3" height="17" rx="1.5"/><rect class="b" x="926.7" y="532.3" width="33.3" height="17" rx="1.5"/><text class="t" y="536"><tspan x="927.9">Institutions failed to</tspan><tspan x="927.9" dy="3.75">mitigate conflict has</tspan><tspan x="927.9" dy="3.75">weak? Incompetent on</tspan><tspan x="927.9" dy="3.75">trade</tspan></text></g>
<g id="n38b"><rect class="s" x="963.3" y="533.3" width="32.7" height="12.7" rx="1.5"/><rect class="b" x="962.3" y="532.3" width="32.7" height="12.7" rx="1.5"/><text class="t" y="536"><tspan x="963.5">Conflict leads cross-</tspan><tspan x="963.5" dy="3.75">national.</tspan></text></g></g>
</svg>
